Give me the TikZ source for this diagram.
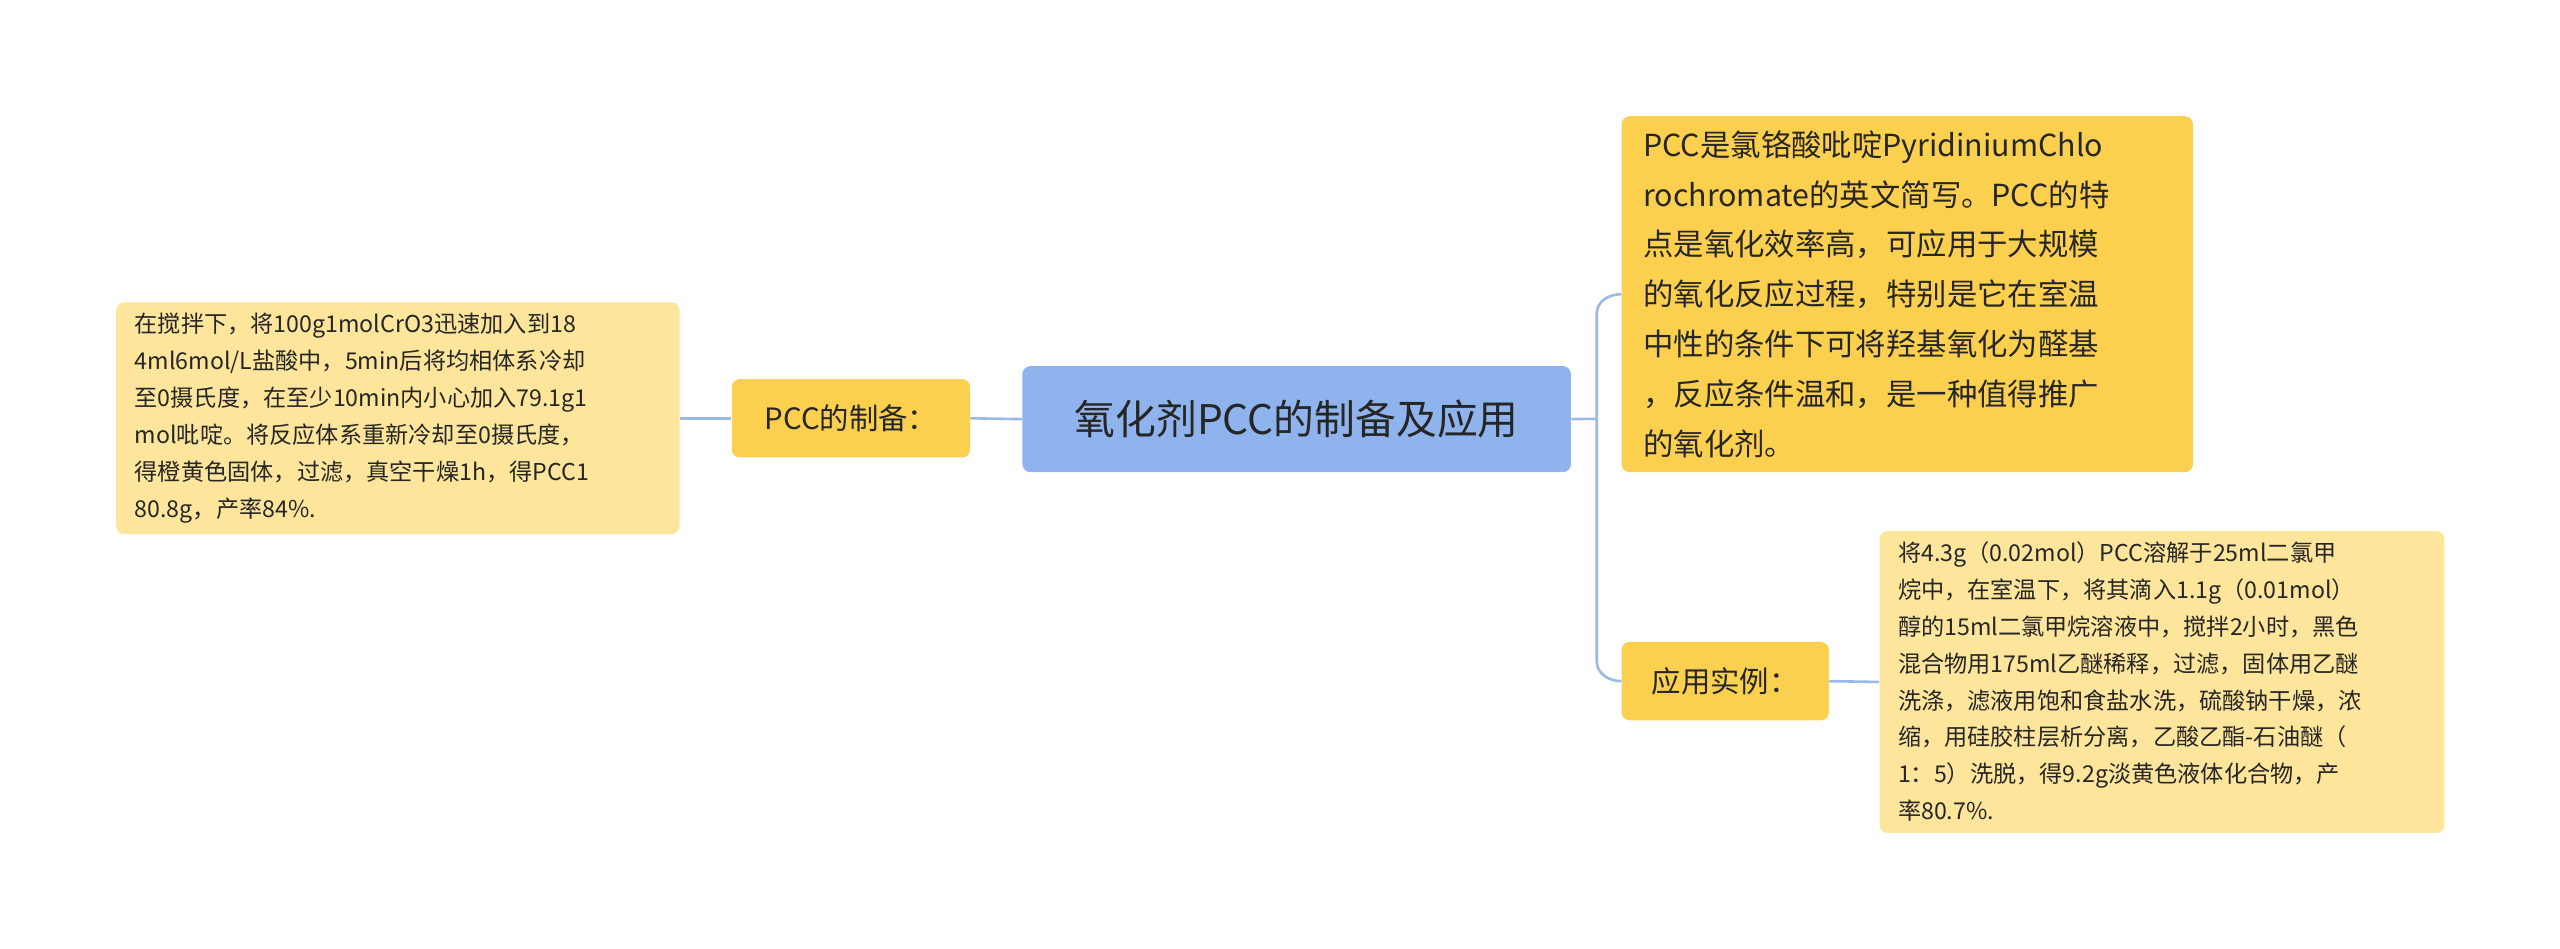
\documentclass[tikz,border=0pt]{standalone}
\usepackage{fontspec}
\setmainfont{Noto Sans CJK SC}
\begin{document}
\begin{tikzpicture}[x=1pt,y=-1pt,
 box/.style={rounded corners=5pt,inner sep=0pt,anchor=north west},
 conn/.style={draw=lineblue,line width=1.6pt},
 txt/.style={align=left,anchor=west,text=black!85}]
\definecolor{lineblue}{HTML}{9AB8E8}
\definecolor{cblue}{HTML}{8FB3EC}
\definecolor{dyel}{HTML}{FCD04F}
\definecolor{lyel}{HTML}{FDE59B}
\useasboundingbox (0,0) rectangle (1568,581);
% boxes
\node[box,fill=cblue,minimum width=336pt,minimum height=65pt] (c) at (626,224) {};
\node[font=\fontsize{25}{30}\selectfont,text=black!85] at (c.center) {氧化剂PCC的制备及应用};
\node[box,fill=dyel,minimum width=146pt,minimum height=48pt] (p) at (448,232) {};
\node[font=\fontsize{18}{22}\selectfont,text=black!85] at (p.center) {PCC的制备：};
\node[box,fill=lyel,minimum width=345pt,minimum height=142pt] (l) at (71,185) {};
\node[txt,font=\fontsize{14.2}{22.6}\selectfont] at (79,256) {在搅拌下，将100g1molCrO3迅速加入到18\\4ml6mol/L盐酸中，5min后将均相体系冷却\\至0摄氏度，在至少10min内小心加入79.1g1\\mol吡啶。将反应体系重新冷却至0摄氏度，\\得橙黄色固体，过滤，真空干燥1h，得PCC1\\80.8g，产率84\%.};
\node[box,fill=dyel,minimum width=350pt,minimum height=218pt] (r) at (993,71) {};
\node[txt,font=\fontsize{18.6}{30.5}\selectfont] at (1003,180) {PCC是氯铬酸吡啶PyridiniumChlo\\rochromate的英文简写。PCC的特\\点是氧化效率高，可应用于大规模\\的氧化反应过程，特别是它在室温\\中性的条件下可将羟基氧化为醛基\\，反应条件温和，是一种值得推广\\的氧化剂。};
\node[box,fill=dyel,minimum width=127pt,minimum height=48pt] (a) at (993,393) {};
\node[font=\fontsize{18}{22}\selectfont,text=black!85] at (a.center) {应用实例：};
\node[box,fill=lyel,minimum width=346pt,minimum height=185pt] (e) at (1151,325) {};
\node[txt,font=\fontsize{14.2}{22.6}\selectfont] at (1159,417.5) {将4.3g（0.02mol）PCC溶解于25ml二氯甲\\烷中，在室温下，将其滴入1.1g（0.01mol）\\醇的15ml二氯甲烷溶液中，搅拌2小时，黑色\\混合物用175ml乙醚稀释，过滤，固体用乙醚\\洗涤，滤液用饱和食盐水洗，硫酸钠干燥，浓\\缩，用硅胶柱层析分离，乙酸乙酯-石油醚（\\1：5）洗脱，得9.2g淡黄色液体化合物，产\\率80.7\%.};
% connectors
\draw[conn] (c.west) -- (p.east);
\draw[conn] (p.west) -- (l.east);
\draw[conn] (c.east) -- (978,256.5) -- (978,192) to[out=90,in=180] (r.west);
\draw[conn] (978,256.5) -- (978,405) to[out=-90,in=180] (a.west);
\draw[conn] (a.east) -- (e.west);
\end{tikzpicture}
\end{document}
